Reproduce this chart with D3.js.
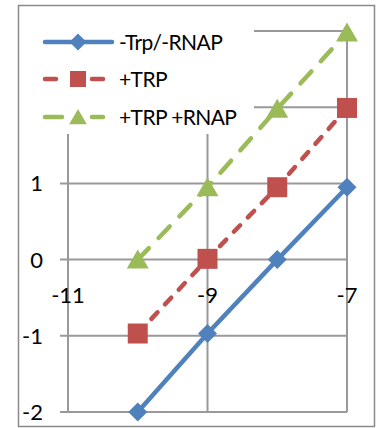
<!DOCTYPE html>
<html><head><meta charset="utf-8">
<script src="https://cdn.jsdelivr.net/npm/d3@7"></script>
<style>body{margin:0;background:#fff}svg{display:block}text{font-family:Lato,"Open Sans",sans-serif;fill:#000}</style>
</head><body>
<svg id="c" width="381" height="428"></svg>
<script>
const xValues = [-10, -9, -8, -7];
const seriesNames = ["-Trp/-RNAP", "+TRP", "+TRP +RNAP"];
const blueValues = [-2.0, -0.97, 0.0, 0.95];
const redValues = [-0.97, 0.01, 0.95, 1.99];
const greenValues = [0.0, 0.95, 1.98, 2.98];
const xTicks = [-11, -9, -7];
const yTicks = [-2, -1, 0, 1, 2, 3];

const svg = d3.select("#c");
const x = d3.scaleLinear().domain([-11, -7]).range([68, 347]);
const y = d3.scaleLinear().domain([-2, 3]).range([412, 31]);
const grid = "#999";

// frame
svg.append("rect").attr("x", 18.5).attr("y", 5.5).attr("width", 356).attr("height", 421)
  .attr("fill", "none").attr("stroke", "#8a8a8a").attr("stroke-width", 1.5);

// horizontal gridlines (with outward tick)
svg.append("g").selectAll("line").data(yTicks).join("line")
  .attr("x1", 60).attr("x2", x(-7)).attr("y1", d => y(d)).attr("y2", d => y(d))
  .attr("stroke", grid).attr("stroke-width", 2);
// vertical gridlines
svg.append("g").selectAll("line").data(xTicks).join("line")
  .attr("x1", d => x(d)).attr("x2", d => x(d)).attr("y1", y(3)).attr("y2", y(-2))
  .attr("stroke", grid).attr("stroke-width", 2);

// y tick labels
svg.append("g").selectAll("text").data(yTicks).join("text")
  .attr("x", 43).attr("y", d => y(d)).attr("dy", "0.36em").attr("text-anchor", "end")
  .attr("font-size", 22).text(d => d);
// x tick labels (axis crosses at y=0)
svg.append("g").selectAll("text").data(xTicks).join("text")
  .attr("x", d => x(d)).attr("y", y(0) + 43).attr("text-anchor", "middle")
  .attr("font-size", 22).text(d => d);

const series = [
  {name: seriesNames[0], vals: blueValues, color: "#4F81BD", dash: null, marker: "diamond"},
  {name: seriesNames[1], vals: redValues, color: "#C0504D", dash: "9,11", marker: "square"},
  {name: seriesNames[2], vals: greenValues, color: "#9BBB59", dash: "16,14", marker: "triangle"}
];
const line = d3.line().x((d, i) => x(xValues[i])).y(d => y(d));
function drawMarker(g, type, cx, cy, color, s) {
  if (type === "diamond") {
    g.append("path").attr("d", `M${cx},${cy - s}L${cx + s},${cy}L${cx},${cy + s}L${cx - s},${cy}Z`).attr("fill", color);
  } else if (type === "square") {
    g.append("rect").attr("x", cx - s).attr("y", cy - s).attr("width", 2 * s).attr("height", 2 * s).attr("fill", color);
  } else {
    g.append("path").attr("d", `M${cx},${cy - s}L${cx + s * 1.1},${cy + s * 0.9}L${cx - s * 1.1},${cy + s * 0.9}Z`).attr("fill", color);
  }
}
const plot = svg.append("g");
series.forEach(s => {
  plot.append("path").datum(s.vals).attr("d", line).attr("fill", "none")
    .attr("stroke", s.color).attr("stroke-width", 4.5).attr("stroke-linecap", "round")
    .attr("stroke-dasharray", s.dash);
});
series.forEach(s => {
  s.vals.forEach((v, i) => {
    const sz = s.marker === "diamond" ? 9.5 : 10;
    drawMarker(plot, s.marker, x(xValues[i]), y(v), s.color, sz);
  });
});

// legend
const lg = svg.append("g");
lg.append("rect").attr("x", 20).attr("y", 7).attr("width", 234).attr("height", 127).attr("fill", "#fff");
const rowsY = [42, 79, 117];
series.forEach((s, i) => {
  const cy = rowsY[i];
  const segs = i === 0 ? [[45, 112]] : i === 1 ? [[45, 56], [92, 103]] : [[45, 62], [92, 103]];
  segs.forEach(sg => lg.append("line").attr("x1", sg[0]).attr("x2", sg[1]).attr("y1", cy).attr("y2", cy)
    .attr("stroke", s.color).attr("stroke-width", 4.5).attr("stroke-linecap", "round"));
  drawMarker(lg, s.marker, 78, cy, s.color, s.marker === "diamond" ? 8.5 : 8);
  lg.append("text").attr("x", 119).attr("y", cy).attr("dy", "0.36em").attr("font-size", 21)
    .attr("letter-spacing", -0.6).text(s.name);
});
</script>
</body></html>
